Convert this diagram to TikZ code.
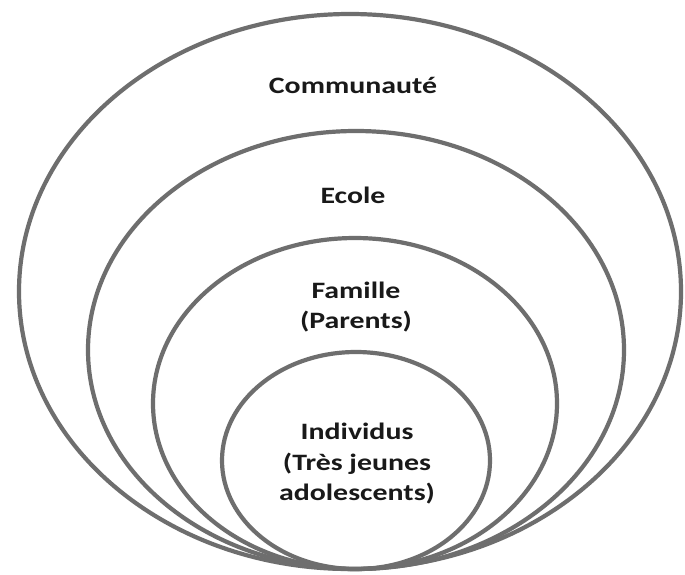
\documentclass[tikz,border=0pt]{standalone}
\usepackage{fontspec}
\setmainfont{Carlito}
\newfontfamily\lblfont[FakeStretch=1.27]{Carlito}
\begin{document}
\begin{tikzpicture}[x=1pt,y=-1pt,
  ring/.style={draw=ringgray,line width=4.2pt},
  lbl/.style={font=\lblfont\bfseries\fontsize{23.5}{30.5}\selectfont,text=black!90,align=center,inner sep=0pt}]
\definecolor{ringgray}{HTML}{6E6E6E}
\useasboundingbox[fill=white] (0,0) rectangle (685,574);
\draw[ring] (350,291.5) ellipse [x radius=331, y radius=277.5];
\draw[ring] (356,350) ellipse [x radius=268, y radius=219];
\draw[ring] (355,403.5) ellipse [x radius=202, y radius=165.5];
\draw[ring] (356,460.5) ellipse [x radius=134, y radius=108.5];
\node[lbl] (comm) at (353,85) {Communauté};
\node[lbl] (ecole) at (353,195) {Ecole};
\node[lbl] (fam) at (356,307) {Famille\\(Parents)};
\node[lbl] (ind) at (357,464) {Individus\\(Très jeunes\\adolescents)};
\end{tikzpicture}
\end{document}
